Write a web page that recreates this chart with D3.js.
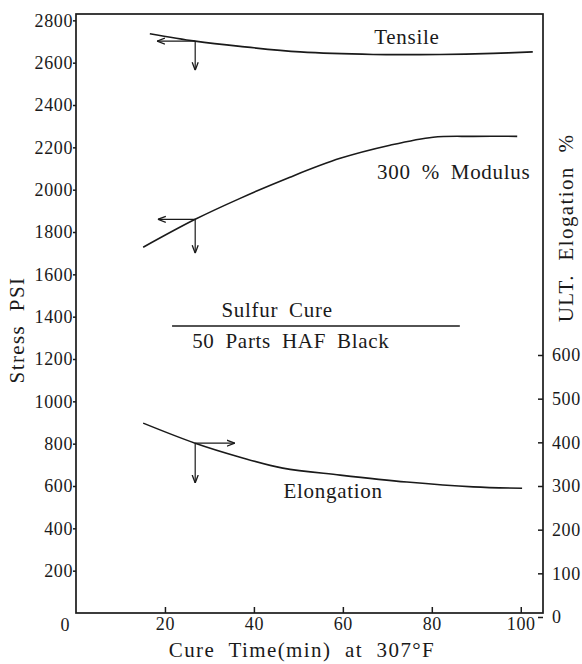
<!DOCTYPE html>
<html>
<head>
  <meta charset="utf-8">
  <title>cure curves</title>
  <script src="https://d3js.org/d3.v7.min.js"></script>
  <style>
    body { margin: 0; background: #fff; }
    svg text { font-family: "Liberation Serif", "DejaVu Serif", serif; fill: #1a1a1a; }
    .tick line { stroke: #1a1a1a; stroke-width: 1.5; }
    .tick text { font-size: 18px; letter-spacing: 0.6px; }
    .curve { fill: none; stroke: #1a1a1a; stroke-width: 1.6; }
    .arrow { fill: none; stroke: #1a1a1a; stroke-width: 1.2; }
    .lbl { font-size: 21px; letter-spacing: 0.7px; word-spacing: 5px; }
    .title { font-size: 21px; letter-spacing: 1.4px; word-spacing: 7px; }
  </style>
</head>
<body>
<div id="chart"></div>
<script>
// values (cure time in min, stress psi / elongation %)
var tensile = [[16.6,2737],[26.8,2702],[36.9,2677],[50.4,2651],[66.8,2639],[81.8,2639],[93.8,2644],[102.7,2651]];
var modulus = [[15.1,1728],[26.8,1860],[36.9,1959],[48.1,2059],[59.4,2148],[70.6,2210],[80.3,2248],[89.3,2252],[99.2,2252]];
var elongation = [[15.1,444],[26.8,398],[36.9,366],[46.5,341],[59.4,325],[74.4,309],[89.3,298],[100.3,295]];

var xTicks = [20, 40, 60, 80, 100];
var yTicks = [200, 400, 600, 800, 1000, 1200, 1400, 1600, 1800, 2000, 2200, 2400, 2600, 2800];
var rTicks = [0, 100, 200, 300, 400, 500, 600];

// arrows at the 27 min point: [x, y, xTo, yTo, axis]
var arrows = [
  [26.8, 2702, 18.2, 2564, "left"],
  [26.8, 1860, 18.4, 1700, "left"],
  [26.8, 398, 35.7, 307, "right"]
];

var width = 582, height = 664;

var x = d3.scaleLinear().domain([0, 105]).range([76, 543]);
var y = d3.scaleLinear().domain([0, 2830]).range([613, 14]);
var yR = d3.scaleLinear().domain([0, 600]).range([617, 355]);

var svg = d3.select("#chart").append("svg")
    .attr("width", width)
    .attr("height", height);

var defs = svg.append("defs");
defs.append("marker")
    .attr("id", "head")
    .attr("viewBox", "0 0 8 8")
    .attr("refX", 8).attr("refY", 4)
    .attr("markerWidth", 8).attr("markerHeight", 8)
    .attr("markerUnits", "userSpaceOnUse")
    .attr("orient", "auto")
  .append("path")
    .attr("d", "M0,1 L8,4 L0,7")
    .attr("fill", "none")
    .attr("stroke", "#1a1a1a")
    .attr("stroke-width", 1.3);

// axes
var gx = svg.append("g")
    .attr("transform", "translate(0," + y(0) + ")")
    .call(d3.axisBottom(x).tickValues(xTicks).tickSize(-6).tickPadding(4).tickFormat(d3.format("d")));
gx.select(".domain").remove();

var gy = svg.append("g")
    .attr("transform", "translate(" + x(0) + ",0)")
    .call(d3.axisLeft(y).tickValues(yTicks).tickSize(3).tickPadding(0).tickFormat(d3.format("d")));
gy.select(".domain").remove();

var gr = svg.append("g")
    .attr("transform", "translate(" + x(105) + ",0)")
    .call(d3.axisRight(yR).tickValues(rTicks).tickSize(-5).tickPadding(9).tickFormat(d3.format("d")));
gr.select(".domain").remove();

// frame
svg.append("rect")
    .attr("x", x(0)).attr("y", y(2830))
    .attr("width", x(105) - x(0))
    .attr("height", y(0) - y(2830))
    .attr("fill", "none")
    .attr("stroke", "#1a1a1a")
    .attr("stroke-width", 1.7);

// origin label
svg.append("text")
    .attr("x", x(0) - 11).attr("y", y(0) + 18)
    .attr("text-anchor", "middle")
    .style("font-size", "18px")
    .text("0");

// curves
var line = d3.line()
    .x(function(d) { return x(d[0]); })
    .y(function(d) { return y(d[1]); })
    .curve(d3.curveCatmullRom);
var lineR = d3.line()
    .x(function(d) { return x(d[0]); })
    .y(function(d) { return yR(d[1]); })
    .curve(d3.curveCatmullRom);

svg.append("path").attr("class", "curve").attr("d", line(tensile));
svg.append("path").attr("class", "curve").attr("d", line(modulus));
svg.append("path").attr("class", "curve").attr("d", lineR(elongation));

// arrows
arrows.forEach(function(a) {
  var s = a[4] == "left" ? y : yR;
  svg.append("line").attr("class", "arrow")
      .attr("x1", x(a[0])).attr("y1", s(a[1]))
      .attr("x2", x(a[2])).attr("y2", s(a[1]))
      .attr("marker-end", "url(#head)");
  svg.append("line").attr("class", "arrow")
      .attr("x1", x(a[0])).attr("y1", s(a[1]))
      .attr("x2", x(a[0])).attr("y2", s(a[3]))
      .attr("marker-end", "url(#head)");
});

// labels
svg.append("text").attr("class", "lbl")
    .attr("x", x(74.4)).attr("y", y(2688))
    .attr("text-anchor", "middle").text("Tensile");
svg.append("text").attr("class", "lbl")
    .attr("x", x(67.7)).attr("y", y(2050))
    .text("300 % Modulus");
svg.append("text").attr("class", "lbl")
    .attr("x", x(45.2)).attr("y", y(1398))
    .attr("text-anchor", "middle").text("Sulfur Cure");
svg.append("line")
    .attr("x1", x(21.6)).attr("x2", x(86.3))
    .attr("y1", y(1356)).attr("y2", y(1356))
    .attr("stroke", "#1a1a1a").attr("stroke-width", 1.4);
svg.append("text").attr("class", "lbl")
    .attr("x", x(48.3)).attr("y", y(1252))
    .attr("text-anchor", "middle").text("50 Parts HAF Black");
svg.append("text").attr("class", "lbl")
    .attr("x", x(57.8)).attr("y", y(543))
    .attr("text-anchor", "middle").text("Elongation");

// axis titles
svg.append("text").attr("class", "title")
    .attr("transform", "translate(24,330) rotate(-90)")
    .attr("text-anchor", "middle").text("Stress PSI");
svg.append("text").attr("class", "title")
    .attr("transform", "translate(573,228) rotate(-90)")
    .attr("text-anchor", "middle").text("ULT. Elogation %");
svg.append("text").attr("class", "title")
    .attr("x", 302).attr("y", 657)
    .attr("text-anchor", "middle").text("Cure Time(min) at 307°F");
</script>
</body>
</html>
